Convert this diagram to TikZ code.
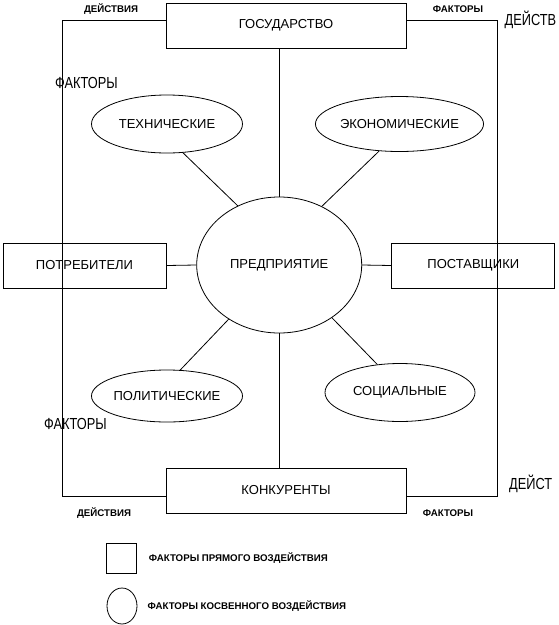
\documentclass[tikz,border=0pt]{standalone}
\usepackage{fontspec}
\setmainfont{Liberation Sans}
\newfontfamily\narrowfont[FakeStretch=0.8]{Liberation Sans}
\usetikzlibrary{shapes.geometric, positioning}

\begin{document}
\begin{tikzpicture}[x=1pt, y=-1pt,
        box/.style={rectangle, draw, line width=0.8pt, font=\fontsize{13}{15}\selectfont},
        oval/.style={ellipse, draw, line width=0.8pt, inner sep=0pt, font=\fontsize{13}{15}\selectfont},
        tag/.style={font=\fontsize{9.7}{11}\selectfont\bfseries, inner sep=0pt},
        side/.style={font=\narrowfont\fontsize{16}{18}\selectfont, anchor=west, inner sep=0pt},
        link/.style={line width=0.8pt}
    ]
    \useasboundingbox (0,0) rectangle (558,625);

    \node[box, minimum width=240pt, minimum height=45pt] (gos) at (286,25.5) {ГОСУДАРСТВО};
    \node[box, minimum width=240pt, minimum height=45pt] (kon) at (286,490.5) {КОНКУРЕНТЫ};
    \node[box, minimum width=163pt, minimum height=45pt] (pot) at (84.5,265.5) {ПОТРЕБИТЕЛИ};
    \node[box, minimum width=163pt, minimum height=45pt] (post) at (473.3,265.5) {ПОСТАВЩИКИ};

    \node[oval, minimum width=165pt, minimum height=136pt] (ent) at (279.2,265) {ПРЕДПРИЯТИЕ};
    \node[oval, minimum width=151pt, minimum height=58pt] (tech) at (167,124) {ТЕХНИЧЕСКИЕ};
    \node[oval, minimum width=151pt, minimum height=55pt] (econ) at (399.5,124) {ЭКОНОМИЧЕСКИЕ};
    \node[oval, minimum width=150pt, minimum height=52pt] (pol) at (167,396) {ПОЛИТИЧЕСКИЕ};
    \node[oval, minimum width=150pt, minimum height=58pt] (soc) at (400,392.5) {СОЦИАЛЬНЫЕ};

    \draw[link] (ent.north) -- (ent.north |- gos.south);
    \draw[link] (ent.south) -- (ent.south |- kon.north);
    \draw[link] (pot.east) -- (ent.west);
    \draw[link] (ent.east) -- (post.west);
    \draw[link] (tech.-61) -- (ent.125);
    \draw[link] (econ.-127) -- (ent.54);
    \draw[link] (pol.63) -- (ent.-133);
    \draw[link] (soc.129) -- (ent.-45);

    % outer frame
    \coordinate (tl) at (62,20);
    \coordinate (tr) at (497,20);
    \coordinate (bl) at (62,496);
    \coordinate (br) at (497,496);
    \draw[link] (gos.west |- tl) -- (tl) -- (bl) -- (kon.west |- bl);
    \draw[link] (gos.east |- tr) -- (tr) -- (br) -- (kon.east |- br);

    \node[tag] (act1) at (111,9.5) {ДЕЙСТВИЯ};
    \node[tag] (fac1) at (458,9.5) {ФАКТОРЫ};
    \node[tag] (act2) at (104,513) {ДЕЙСТВИЯ};
    \node[tag] (fac2) at (448,513) {ФАКТОРЫ};
    \node[side] (act3) at (504.5,20) {ДЕЙСТВ};
    \node[side] (fac3) at (55,83.3) {ФАКТОРЫ};
    \node[side] (fac4) at (44,423.5) {ФАКТОРЫ};
    \node[side] (act4) at (509,483.5) {ДЕЙСТ};

    % legend
    \node[draw, link, minimum width=29.5pt, minimum height=30pt, inner sep=0pt] (sq) at (121.5,558) {};
    \node[tag, right=12pt of sq] (sqtext) {ФАКТОРЫ ПРЯМОГО ВОЗДЕЙСТВИЯ};
    \node[oval, minimum width=30pt, minimum height=36pt] (ov) at (122,606) {};
    \node[tag, right=10pt of ov] (ovtext) {ФАКТОРЫ КОСВЕННОГО ВОЗДЕЙСТВИЯ};
\end{tikzpicture}
\end{document}
